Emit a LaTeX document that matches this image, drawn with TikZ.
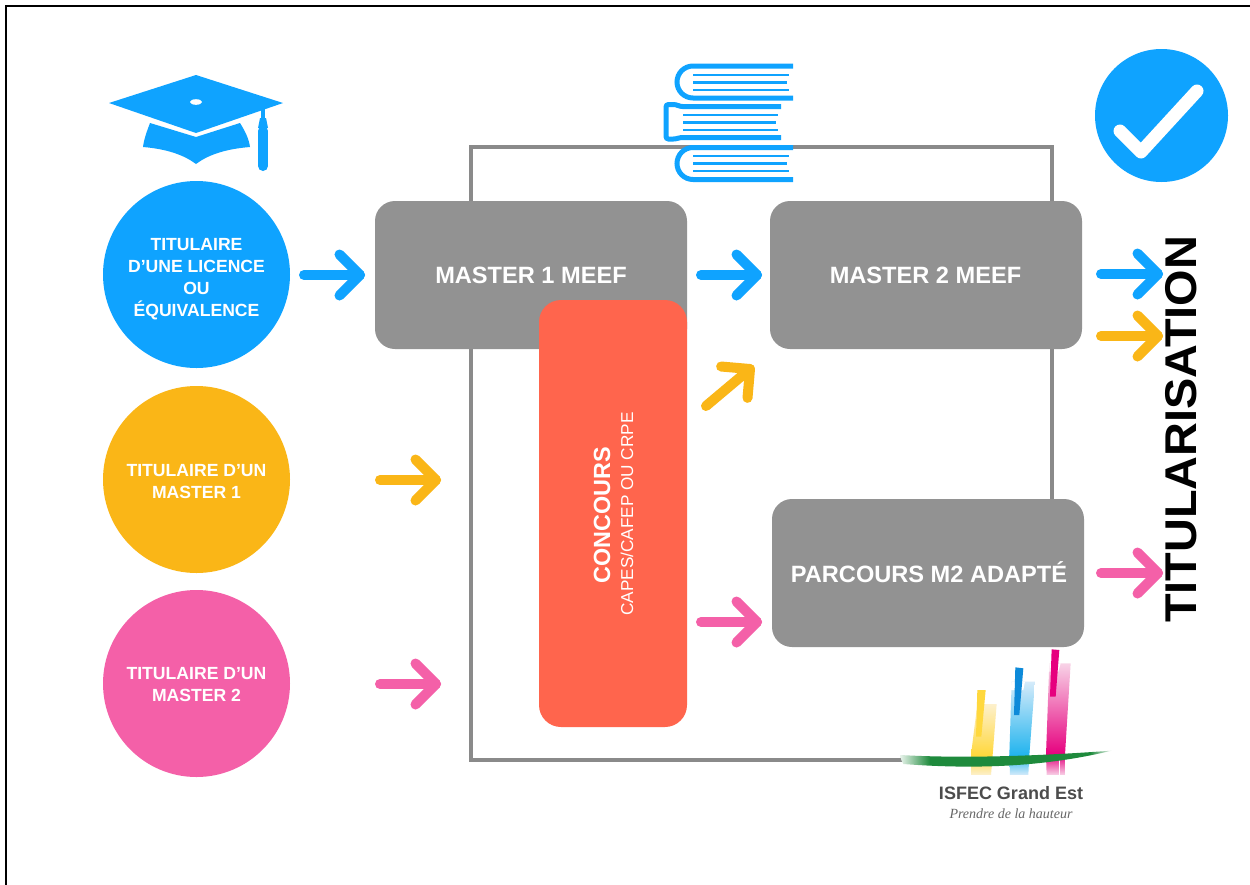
\documentclass[tikz,border=0pt]{standalone}
\usepackage{fontspec}
\setmainfont{Liberation Sans}
\newfontfamily\serifit{Liberation Serif}
\usetikzlibrary{calc}
\definecolor{cblue}{HTML}{0FA3FF}
\definecolor{cyel}{HTML}{FAB617}
\definecolor{cpink}{HTML}{F460A8}
\definecolor{cgray}{HTML}{929292}
\definecolor{cred}{HTML}{FF654D}
\definecolor{cframe}{HTML}{8A8A8A}
\definecolor{lgyel}{HTML}{FFD83D}
\definecolor{lgyelp}{HTML}{FDF0CC}
\definecolor{lgblu}{HTML}{22B4EE}
\definecolor{lgblup}{HTML}{D5EBFA}
\definecolor{lgpnk}{HTML}{E6007E}
\definecolor{lgpnkp}{HTML}{F8D3E7}
\definecolor{lggrn}{HTML}{1E8A3C}
\tikzset{
  disc/.style={circle,draw=none,minimum size=187pt,inner sep=0pt},
  disctext/.style={text=white,align=center,inner sep=0pt,font=\fontsize{17.6}{22}\selectfont\bfseries},
  grayblock/.style={draw=none,fill=cgray,rounded corners=20pt},
  blocktext/.style={text=white,font=\fontsize{23.6}{28}\selectfont\bfseries},
  flow/.style={line width=10pt,line cap=round,line join=round},
  bookline/.style={cblue,line width=2.2pt},
  bookcover/.style={cblue,line width=5pt,rounded corners=2.5pt}
}
\newcommand{\flowarrow}[4]{% name, start, tip, colour
  \coordinate (#1s) at #2;
  \coordinate (#1e) at #3;
  \draw[flow,#4] (#1s) -- (#1e);
  \draw[flow,#4] ($(#1e)!29pt!45:(#1s)$) -- (#1e) -- ($(#1e)!29pt!-45:(#1s)$);
}
\begin{document}
\begin{tikzpicture}[x=1pt,y=-1pt]
\useasboundingbox (0,0) rectangle (1250,884);
\fill[white] (0,0) rectangle (1250,884);
% page border
\draw[black,line width=2.1pt] (6,890) -- (6,6.3) -- (1256,6.3);
% frame
\draw[cframe,line width=4pt] (905,760) -- (471,760) -- (471,147) -- (1052,147) -- (1052,510);
% discs
\node[disc,fill=cblue] (licence) at (196.5,274.5) {};
\node[disctext] (licencet) at (196.5,279) {TITULAIRE\\D’UNE LICENCE\\OU\\ÉQUIVALENCE};
\node[disc,fill=cyel] (m1) at (196.5,479.5) {};
\node[disctext] (m1t) at (196.5,482) {TITULAIRE D’UN\\MASTER 1};
\node[disc,fill=cpink] (m2) at (196.5,683.5) {};
\node[disctext] (m2t) at (196.5,685) {TITULAIRE D’UN\\MASTER 2};
% blocks
\path[grayblock] (375,201) rectangle (687,349);
\node[blocktext] (meef1) at (531,275) {MASTER 1 MEEF};
\path[grayblock] (770,201) rectangle (1082,349);
\node[blocktext] (meef2) at (925.5,275) {MASTER 2 MEEF};
\path[grayblock] (772,499) rectangle (1084,647);
\node[blocktext] (adapte) at (929,572.5) {PARCOURS M2 ADAPTÉ};
\fill[cred,rounded corners=22pt] (539,300) rectangle (687,727);
\node[rotate=90,text=white,font=\fontsize{23.4}{28}\selectfont\bfseries] (concours) at (602,515) {CONCOURS};
\node[rotate=90,text=white,font=\fontsize{17.2}{20}\selectfont] (capes) at (627,514) {CAPES/CAFEP OU CRPE};
\node[rotate=90,xscale=1.053,transform shape,text=black,font=\fontsize{44.5}{50}\selectfont\bfseries,inner sep=0pt] (titu) at (1181,429.5) {TITULARISATION};
% arrows
\flowarrow{af}{(304,275)}{(360,275)}{cblue}
\flowarrow{ag}{(701,275)}{(757,275)}{cblue}
\flowarrow{ah}{(1101,274)}{(1158,274)}{cblue}
\flowarrow{ai}{(1101,336)}{(1158,336)}{cyel}
\flowarrow{aj}{(380,480)}{(436,480)}{cyel}
\flowarrow{ak}{(706,406)}{(750,369)}{cyel}
\flowarrow{al}{(701,622)}{(757,622)}{cpink}
\flowarrow{am}{(380,684)}{(436,684)}{cpink}
\flowarrow{an}{(1101,573)}{(1158,573)}{cpink}
% check badge
\fill[cblue] (1161.5,115.5) circle (66.5pt);
\draw[white,line width=13pt,line cap=round,line join=round] (1120,131) -- (1141,152) -- (1197,91);
% mortarboard
\fill[cblue] (196,75) -- (283,103) -- (196,133) -- (109,103) -- cycle;
\fill[white] (196,102) ellipse (6pt and 2.8pt);
\fill[cblue] (150,123) -- (196,137) -- (240,123) .. controls (245,131) and (249,139) .. (250,147)
  .. controls (225,149) and (208,155) .. (196,164) .. controls (184,155) and (167,149) .. (143,147)
  .. controls (144,139) and (147,131) .. cycle;
\draw[cblue,line width=4pt] (263,108) -- (263,128);
\draw[cblue,line width=10pt,line cap=round] (263,131) -- (263,166);
\fill[cblue] (260,118) -- (266,118) -- (268,128) -- (258,128) -- cycle;
% books
\draw[bookcover,rounded corners=0pt] (793,66) -- (693,66) arc[start angle=270,end angle=90,radius=16] -- (793,98);
\draw[bookline] (693,75) -- (789,75) (693,82.5) -- (787,82.5) (693,90) -- (789,90);
\draw[bookcover] (781,106.5) -- (680,106.5) -- (676,104.5) -- (671,104.5) -- (666,104.5) -- (666,139) -- (676,139) -- (680,137.5) -- (781,137.5);
\draw[bookline] (683,115) -- (778,115) (683,122.5) -- (776,122.5) (683,130) -- (778,130);
\draw[bookcover,rounded corners=0pt] (793,147.5) -- (693,147.5) arc[start angle=270,end angle=90,radius=16] -- (793,179.5);
\draw[bookline] (693,156) -- (789,156) (693,163.5) -- (787,163.5) (693,171) -- (789,171);
% logo bars
\begin{scope}[shift={(890,640)},x=0.3333pt,y=-0.3333pt]
  \shade[top color=lgyelp,bottom color=lgyel] (262,192) -- (320,192) -- (308,345) -- (243,345) -- cycle;
  \shade[top color=lgyel,bottom color=lgyelp] (243,345) -- (308,345) -- (303,405) -- (243,405) -- cycle;
  \fill[lgyel] (262,150) -- (287,150) -- (274,290) -- (258,290) -- cycle;
  \shade[top color=lgblup,bottom color=lgblu] (365,125) -- (435,125) -- (418,345) -- (358,345) -- cycle;
  \shade[top color=lgblu,bottom color=lgblup] (358,345) -- (418,345) -- (415,405) -- (360,405) -- cycle;
  \fill[white] (365,125) -- (405,125) -- (400,150) -- (362,150) -- cycle;
  \fill[cblue!85!black] (376,82) -- (400,85) -- (388,225) -- (372,225) -- cycle;
  \shade[top color=lgpnkp,bottom color=lgpnk] (478,70) -- (542,70) -- (525,345) -- (468,345) -- cycle;
  \shade[top color=lgpnk,bottom color=lgpnkp] (468,345) -- (525,345) -- (525,405) -- (470,405) -- cycle;
  \fill[white] (478,70) -- (512,70) -- (505,95) -- (478,95) -- cycle;
  \fill[lgpnk] (485,28) -- (508,30) -- (497,170) -- (480,170) -- cycle;
  \draw[white,line width=0.8pt] (508,345) -- (508,405);
  \begin{scope}
    \clip (30,345) .. controls (150,352) and (350,355) .. (665,332)
      .. controls (500,372) and (300,392) .. (40,372) .. controls (35,365) and (32,355) .. cycle;
    \shade[left color=white,right color=lggrn] (20,320) rectangle (120,400);
    \fill[lggrn] (120,320) rectangle (600,400);
    \shade[left color=lggrn,right color=white] (600,320) rectangle (670,400);
  \end{scope}
\end{scope}
\node[text=black!70,font=\fontsize{18}{22}\selectfont\bfseries,inner sep=0pt] (isfec) at (1011,793) {ISFEC Grand Est};
\node[text=black!60,font=\fontsize{14}{16}\serifit\itshape,inner sep=0pt] (devise) at (1011,814) {Prendre de la hauteur};
\end{tikzpicture}
\end{document}
